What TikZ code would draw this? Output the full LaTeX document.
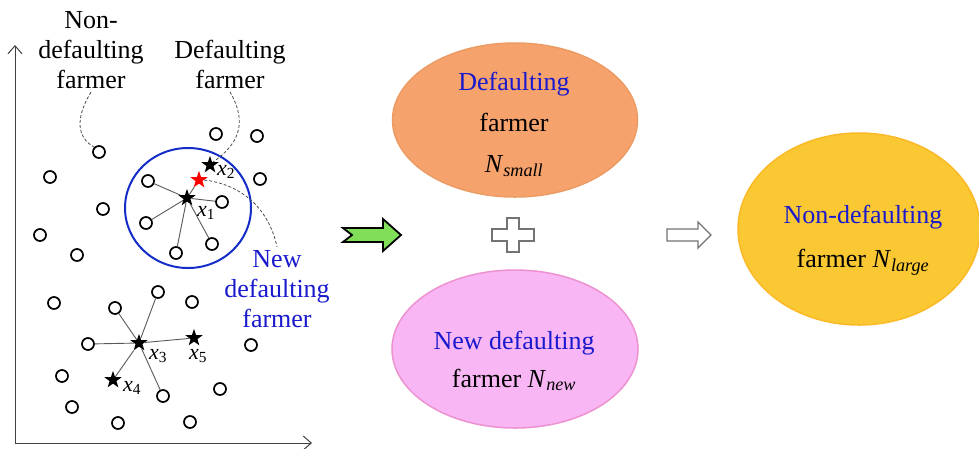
\documentclass[tikz,border=0pt]{standalone}
\usepackage{fontspec}
\setmainfont{Liberation Serif}
\usetikzlibrary{shapes.geometric,arrows.meta}
\definecolor{bluetext}{RGB}{25,25,205}
\definecolor{ringblue}{RGB}{20,45,200}
\definecolor{orangefill}{RGB}{246,162,108}
\definecolor{pinkfill}{RGB}{249,182,244}
\definecolor{yellowfill}{RGB}{250,200,50}
\definecolor{arrowgreen}{RGB}{128,222,88}
\tikzset{
  farmer/.style={circle,draw,line width=1.7pt,minimum size=12pt,inner sep=0pt},
  defstar/.style={star,star points=5,star point ratio=2.5,fill=black,inner sep=0pt,minimum size=18pt},
  link/.style={draw=black!65,line width=0.9pt},
  note/.style={draw=black!70,line width=0.8pt,dash pattern=on 3pt off 2pt},
  blob/.style={ellipse,inner sep=0pt,line width=1.5pt},
  xlab/.style={font=\fontsize{22}{24}\selectfont,inner sep=1pt}
}
\newcommand{\xsub}[2]{\textit{#1}\textsubscript{#2}}
\newcommand{\nsub}[1]{\textit{N}\textsubscript{\textit{#1}}}
\begin{document}
\begin{tikzpicture}[x=1pt,y=-1pt,font=\fontsize{26}{30}\selectfont]
\useasboundingbox (0,0) rectangle (979,448);
% axes
\coordinate (org) at (15,443);
\coordinate (ytip) at (15,45);
\coordinate (xtip) at (312,443);
\draw[black!75,line width=1pt,-{Straight Barb[length=8pt,width=14pt]}] (org) -- (ytip);
\draw[black!75,line width=1pt,-{Straight Barb[length=8pt,width=14pt]}] (org) -- (xtip);
% farmers
\foreach \i/\p in {1/{99,152},2/{216,134},3/{257,136},4/{50,177},5/{260,179},
  6/{148,181},7/{103,209},8/{222,202},9/{40,235},10/{146,223},11/{77,255},
  12/{212,244},13/{176,253},14/{54,303},15/{158,292},16/{115,308},17/{192,302},
  18/{88,344},19/{251,345},20/{62,376},21/{220,389},22/{163,396},23/{72,407},
  24/{118,423},25/{190,422}}
  \node[farmer] (c\i) at (\p) {};
% defaulting farmers
\node[defstar] (x1) at (187,198) {};
\node[defstar] (x2) at (210,165) {};
\node[defstar,fill=red] (rs) at (199,180) {};
\node[defstar] (x3) at (139,343) {};
\node[defstar] (x4) at (113,380) {};
\node[defstar] (x5) at (194,338) {};
\node[xlab] (l1) at (206,213) {\xsub{x}{1}};
\node[xlab] (l2) at (226,172) {\xsub{x}{2}};
\node[xlab] (l3) at (158,356) {\xsub{x}{3}};
\node[xlab] (l4) at (132,388) {\xsub{x}{4}};
\node[xlab] (l5) at (198,356) {\xsub{x}{5}};
% neighbours
\foreach \t in {c6,c8,c10,c13,c12,rs}
  \draw[link] (x1) -- (\t);
\foreach \t in {c15,c16,c18,x5,x4,c22}
  \draw[link] (x3) -- (\t);
\node[ellipse,draw=ringblue,line width=2pt,minimum width=126pt,minimum height=120pt] (ring) at (188,208) {};
% labels
\node[align=center] (nd) at (91,50) {Non-\\defaulting\\farmer};
\node[align=center] (df) at (230,64) {Defaulting\\farmer};
\node[align=center,text=bluetext] (nw) at (277,289) {New\\defaulting\\farmer};
\draw[note] (nd.south) .. controls (74,120) and (78,138) .. (c1.north west);
\draw[note] (df.south) .. controls (246,120) and (242,142) .. (x2.north east);
\draw[note] (rs.east) .. controls (238,184) and (268,205) .. (nw.north);
% arrows and plus
\draw[line width=1.8pt,fill=arrowgreen,line join=miter]
  (343,228) -- (383,228) -- (383,219) -- (401,235) -- (383,251) -- (383,242) -- (343,242) -- (352,235) -- cycle;
\draw[black!55,line width=1.3pt,fill=white]
  (492,229) -- (507,229) -- (507,218) -- (519,218) -- (519,229) -- (534,229) -- (534,241)
  -- (519,241) -- (519,252) -- (507,252) -- (507,241) -- (492,241) -- cycle;
\draw[black!55,line width=1.3pt,fill=white]
  (667,229) -- (698,229) -- (698,222) -- (711,235) -- (698,248) -- (698,241) -- (667,241) -- cycle;
% groups
\node[blob,fill=orangefill,draw=orangefill!80!brown,minimum width=245pt,minimum height=154pt] (small) at (515,120) {};
\node[align=center,font=\fontsize{26}{41}\selectfont] (smalltxt) at (514,124)
  {\textcolor{bluetext}{Defaulting}\\farmer\\\nsub{small}};
\node[blob,fill=pinkfill,draw=pinkfill!80!purple,minimum width=246pt,minimum height=158pt] (new) at (515,349) {};
\node[align=center,font=\fontsize{26}{38}\selectfont] (newtxt) at (514,361)
  {\textcolor{bluetext}{New defaulting}\\farmer \nsub{new}};
\node[blob,fill=yellowfill,draw=yellowfill!80!orange,minimum width=242pt,minimum height=192pt] (large) at (859,229) {};
\node[align=center,font=\fontsize{26}{44}\selectfont] (largetxt) at (863,240)
  {\textcolor{bluetext}{Non-defaulting}\\farmer \nsub{large}};
\end{tikzpicture}
\end{document}
